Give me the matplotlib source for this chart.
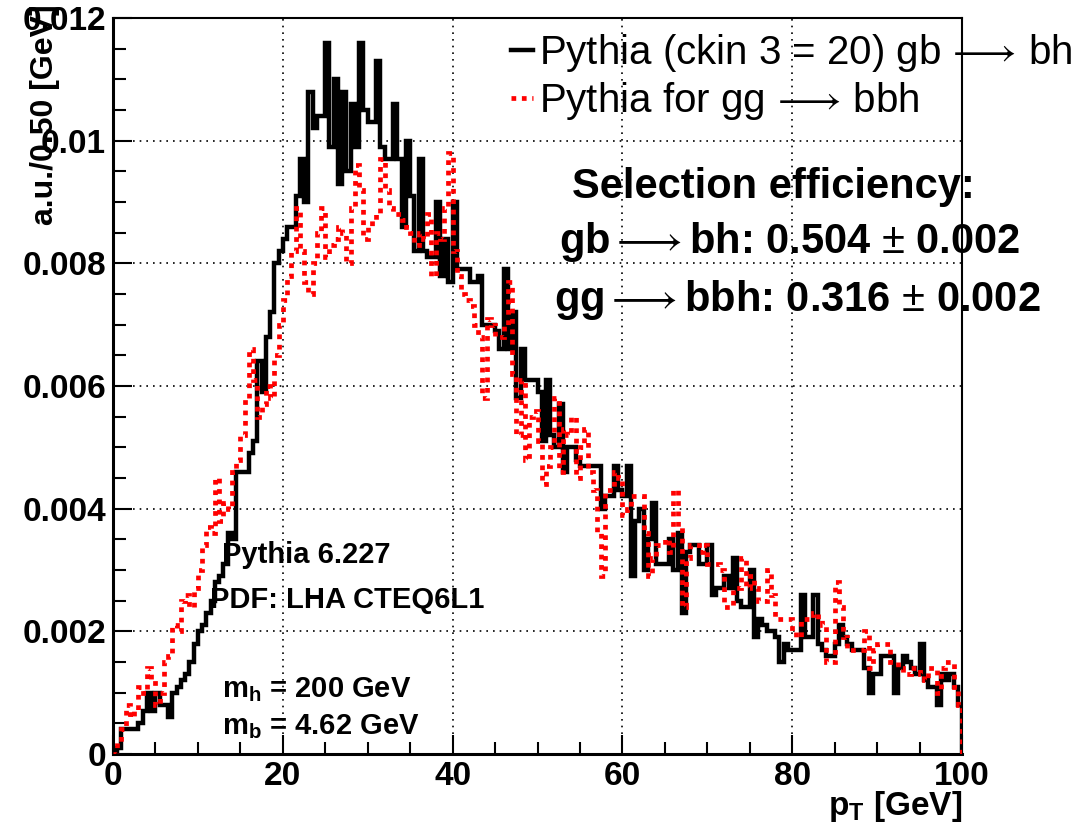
import matplotlib
matplotlib.use('Agg')
import matplotlib.pyplot as plt
from matplotlib.lines import Line2D
from matplotlib.ticker import MultipleLocator
import numpy as np

plt.rcParams['font.family'] = ['Liberation Sans', 'DejaVu Sans']
plt.rcParams['mathtext.fontset'] = 'custom'
plt.rcParams['mathtext.rm'] = 'Liberation Sans'
plt.rcParams['mathtext.bf'] = 'Liberation Sans:bold'
plt.rcParams['mathtext.it'] = 'Liberation Sans:italic'

# 0.5 GeV bins from 0 to 100 GeV
bin_edges = np.arange(0, 100.5, 0.5)

# Pythia (ckin 3 = 20) gb -> bh
gb_bh = [
    0.0000, 0.0001, 0.0004, 0.0004, 0.0004, 0.0004, 0.0005, 0.0007, 0.0010, 0.0007,
    0.0010, 0.0008, 0.0008, 0.0006, 0.0010, 0.0011, 0.0012, 0.0013, 0.0015, 0.0018,
    0.0020, 0.0021, 0.0023, 0.0025, 0.0028, 0.0029, 0.0031, 0.0036, 0.0035, 0.0046,
    0.0046, 0.0046, 0.0049, 0.0051, 0.0064, 0.0059, 0.0068, 0.0072, 0.0080, 0.0082,
    0.0084, 0.0086, 0.0086, 0.0091, 0.0097, 0.0090, 0.0108, 0.0102, 0.0104, 0.0104,
    0.0116, 0.0099, 0.0110, 0.0093, 0.0108, 0.0095, 0.0106, 0.0099, 0.0116, 0.0105,
    0.0103, 0.0103, 0.0113, 0.0099, 0.0097, 0.0097, 0.0106, 0.0097, 0.0086, 0.0100,
    0.0091, 0.0082, 0.0097, 0.0082, 0.0081, 0.0081, 0.0090, 0.0078, 0.0084, 0.0077,
    0.0090, 0.0079, 0.0079, 0.0079, 0.0077, 0.0077, 0.0078, 0.0070, 0.0070, 0.0070,
    0.0069, 0.0066, 0.0079, 0.0066, 0.0072, 0.0058, 0.0066, 0.0061, 0.0061, 0.0061,
    0.0059, 0.0051, 0.0061, 0.0052, 0.0050, 0.0057, 0.0046, 0.0050, 0.0050, 0.0048,
    0.0047, 0.0047, 0.0047, 0.0047, 0.0047, 0.0040, 0.0042, 0.0042, 0.0047, 0.0043,
    0.0042, 0.0047, 0.0029, 0.0038, 0.0040, 0.0030, 0.0035, 0.0041, 0.0031, 0.0031,
    0.0031, 0.0035, 0.0030, 0.0036, 0.0023, 0.0033, 0.0034, 0.0034, 0.0031, 0.0031,
    0.0034, 0.0026, 0.0027, 0.0027, 0.0029, 0.0027, 0.0032, 0.0025, 0.0024, 0.0024,
    0.0030, 0.0019, 0.0022, 0.0021, 0.0020, 0.0020, 0.0019, 0.0015, 0.0018, 0.0017,
    0.0017, 0.0017, 0.0026, 0.0019, 0.0019, 0.0026, 0.0018, 0.0017, 0.0016, 0.0016,
    0.0018, 0.0021, 0.0019, 0.0018, 0.0017, 0.0017, 0.0017, 0.0014, 0.0010, 0.0013,
    0.0013, 0.0016, 0.0016, 0.0016, 0.0010, 0.0014, 0.0016, 0.0015, 0.0014, 0.0013,
    0.0018, 0.0012, 0.0011, 0.0011, 0.0008, 0.0013, 0.0012, 0.0013, 0.0011, 0.0008,
]

# Pythia for gg -> bbh
gg_bbh = [
    0.0000, 0.0002, 0.0004, 0.0008, 0.0006, 0.0007, 0.0011, 0.0010, 0.0014, 0.0012,
    0.0008, 0.0010, 0.0015, 0.0016, 0.0021, 0.0020, 0.0025, 0.0026, 0.0024, 0.0027,
    0.0030, 0.0034, 0.0037, 0.0036, 0.0045, 0.0038, 0.0041, 0.0040, 0.0046, 0.0048,
    0.0052, 0.0058, 0.0066, 0.0061, 0.0055, 0.0057, 0.0060, 0.0058, 0.0065, 0.0070,
    0.0074, 0.0078, 0.0082, 0.0089, 0.0082, 0.0077, 0.0075, 0.0080, 0.0085, 0.0089,
    0.0081, 0.0083, 0.0084, 0.0086, 0.0085, 0.0080, 0.0089, 0.0096, 0.0092, 0.0084,
    0.0086, 0.0087, 0.0088, 0.0097, 0.0092, 0.0089, 0.0088, 0.0088, 0.0087, 0.0086,
    0.0085, 0.0083, 0.0085, 0.0084, 0.0088, 0.0078, 0.0085, 0.0084, 0.0089, 0.0098,
    0.0082, 0.0078, 0.0075, 0.0074, 0.0073, 0.0070, 0.0068, 0.0058, 0.0071, 0.0070,
    0.0068, 0.0068, 0.0070, 0.0077, 0.0062, 0.0052, 0.0061, 0.0048, 0.0055, 0.0056,
    0.0051, 0.0044, 0.0047, 0.0050, 0.0058, 0.0046, 0.0053, 0.0052, 0.0055, 0.0045,
    0.0050, 0.0053, 0.0046, 0.0043, 0.0036, 0.0029, 0.0043, 0.0043, 0.0046, 0.0045,
    0.0039, 0.0040, 0.0042, 0.0042, 0.0042, 0.0036, 0.0029, 0.0032, 0.0034, 0.0034,
    0.0035, 0.0033, 0.0043, 0.0037, 0.0024, 0.0032, 0.0034, 0.0034, 0.0033, 0.0034,
    0.0031, 0.0031, 0.0031, 0.0030, 0.0024, 0.0024, 0.0027, 0.0027, 0.0032, 0.0027,
    0.0029, 0.0027, 0.0025, 0.0025, 0.0030, 0.0026, 0.0022, 0.0022, 0.0022, 0.0022,
    0.0020, 0.0019, 0.0022, 0.0022, 0.0022, 0.0023, 0.0022, 0.0021, 0.0015, 0.0015,
    0.0028, 0.0024, 0.0019, 0.0017, 0.0017, 0.0017, 0.0017, 0.0020, 0.0014, 0.0017,
    0.0018, 0.0018, 0.0018, 0.0015, 0.0015, 0.0014, 0.0013, 0.0013, 0.0014, 0.0014,
    0.0013, 0.0012, 0.0014, 0.0014, 0.0010, 0.0014, 0.0015, 0.0015, 0.0011, 0.0008,
]

legend_labels = [r'Pythia (ckin 3 = 20) gb$\,\longrightarrow\,$bh',
                 r'Pythia for gg$\,\longrightarrow\,$bbh']

fig = plt.figure(figsize=(10.91, 8.32), dpi=100)
ax = fig.add_axes([113/1091, 1 - 754/832, (962-113)/1091, (754-18)/832])

ax.stairs(gb_bh, bin_edges, color='black', linewidth=3.2, zorder=3)
ax.stairs(gg_bbh, bin_edges, color='#ff0000', linewidth=3.4,
          linestyle=(0, (1.0, 1.2)), zorder=4)

ax.set_xlim(0, 100)
ax.set_ylim(0, 0.012)
ax.xaxis.set_major_locator(MultipleLocator(20))
ax.xaxis.set_minor_locator(MultipleLocator(5))
ax.yaxis.set_major_locator(MultipleLocator(0.002))
ax.yaxis.set_minor_locator(MultipleLocator(0.0005))
ax.set_yticks([0, 0.002, 0.004, 0.006, 0.008, 0.01, 0.012])
ax.set_yticklabels(['0', '0.002', '0.004', '0.006', '0.008', '0.01', '0.012'])

ax.tick_params(which='both', direction='in', width=1.5, labelsize=24, pad=5)
ax.tick_params(which='major', length=14)
ax.tick_params(which='minor', length=9)
for lab in ax.get_xticklabels() + ax.get_yticklabels():
    lab.set_fontweight('bold')

ax.grid(True, which='major', color='black', linestyle=(0, (1, 3)), linewidth=1.2)
for s in ax.spines.values():
    s.set_linewidth(1.5)
ax.spines['left'].set_linewidth(2.2)
ax.spines['bottom'].set_linewidth(2.2)

fig.text(45/1091, 1 - 4/832, 'a.u./0.50 [GeV]', rotation=90, ha='center', va='top',
         fontsize=23, fontweight='bold')
fig.text(962/1091, 1 - 806/832, r'p$_{\mathbf{T}}$ [GeV]', ha='right', va='center',
         fontsize=24, fontweight='bold')

handles = [Line2D([], [], color='black', linewidth=3.2),
           Line2D([], [], color='#ff0000', linewidth=3.4, linestyle=(0, (1.0, 1.2)))]
ax.legend(handles, legend_labels, loc='upper left', bbox_to_anchor=(491/1091, 1 - 12/832),
          bbox_transform=fig.transFigure, frameon=False, fontsize=29,
          handlelength=0.55, handletextpad=0.15, labelspacing=0.15, borderpad=0.0)

fig.text(773/1091, 1 - 187/832, 'Selection efficiency:', ha='center', va='center',
         fontsize=30, fontweight='bold')
fig.text(790/1091, 1 - 242/832, r'gb$\longrightarrow$bh: 0.504 $\pm$ 0.002', ha='center',
         va='center', fontsize=30, fontweight='bold')
fig.text(797/1091, 1 - 300/832, r'gg$\longrightarrow$bbh: 0.316 $\pm$ 0.002', ha='center',
         va='center', fontsize=30, fontweight='bold')

fig.text(222/1091, 1 - 555/832, 'Pythia 6.227', ha='left', va='center', fontsize=21,
         fontweight='bold')
fig.text(210/1091, 1 - 600/832, 'PDF: LHA CTEQ6L1', ha='left', va='center', fontsize=21,
         fontweight='bold')
fig.text(222/1091, 1 - 690/832, r'm$_{\mathbf{h}}$ = 200 GeV', ha='left', va='center',
         fontsize=21, fontweight='bold')
fig.text(222/1091, 1 - 727/832, r'm$_{\mathbf{b}}$ = 4.62 GeV', ha='left', va='center',
         fontsize=21, fontweight='bold')

fig.savefig('out.png', dpi=100, facecolor='white')
